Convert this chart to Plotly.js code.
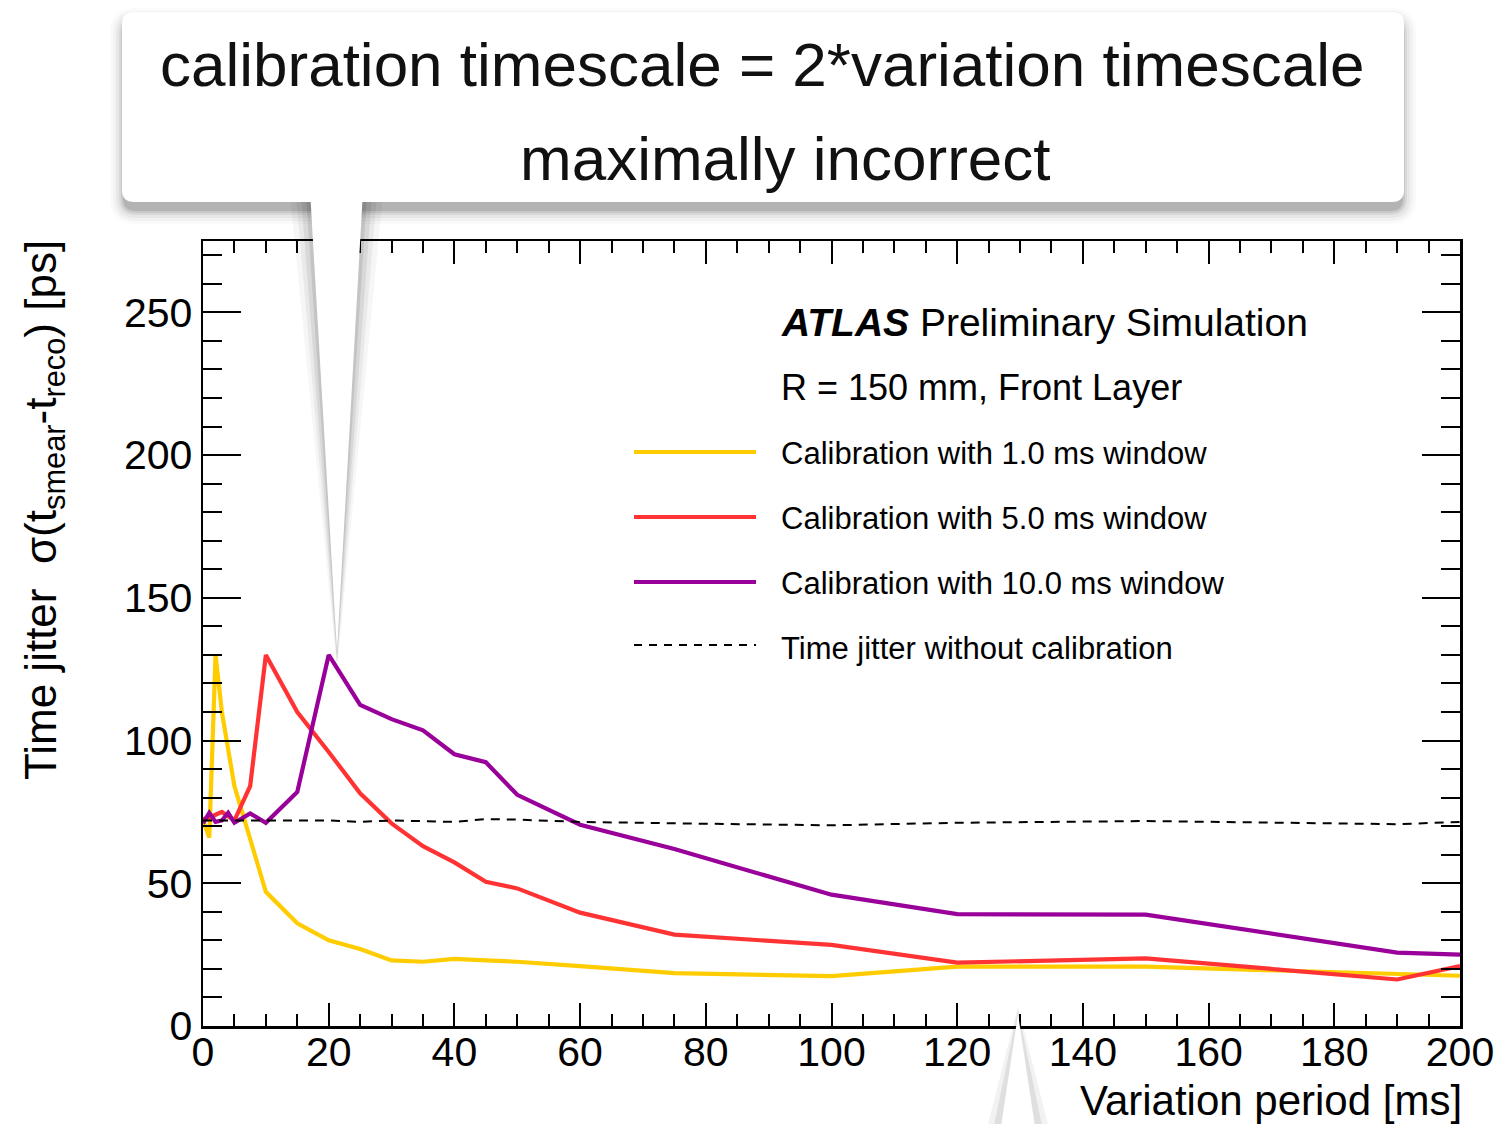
<!DOCTYPE html>
<html>
<head>
<meta charset="utf-8">
<script src="https://cdn.plot.ly/plotly-3.0.1.min.js"></script>
<style>html,body{margin:0;padding:0;background:#fff;}#chart{width:1501px;height:1124px;}</style>
</head>
<body>
<div id="chart"></div>
<script>
// ---- data ----
const xWin1 = [0, 1, 2, 3, 5, 10, 15, 20, 25, 30, 35, 40, 45, 50, 60, 75, 100, 120, 150, 190, 200];
const yWin1 = [72, 66, 130, 110, 84, 47, 36, 30, 27, 23, 22.5, 23.5, 23, 22.5, 21, 18.5, 17.5, 20.8, 20.8, 18, 17.6];

const xWin5 = [0, 1, 2, 3, 5, 7.5, 10, 15, 20, 25, 30, 35, 40, 45, 50, 60, 75, 100, 120, 150, 190, 200];
const yWin5 = [72.5, 73, 74, 75, 72, 84, 130, 110, 96, 81.5, 71, 63, 57.3, 50.5, 48.2, 39.7, 32, 28.4, 22.2, 23.7, 16.3, 21];

const xWin10 = [0, 1, 2, 3, 4, 5, 7.5, 10, 15, 20, 25, 30, 35, 40, 45, 50, 60, 75, 100, 120, 150, 190, 200];
const yWin10 = [71, 74.7, 71.5, 72, 74.7, 71.2, 74.5, 71.2, 82, 130, 112.5, 107.5, 103.6, 95.2, 92.4, 81, 70.5, 62, 46, 39.2, 39, 25.7, 25];

const xNoCal = [0, 10, 20, 25, 30, 40, 45, 50, 60, 75, 100, 120, 150, 190, 200];
const yNoCal = [72, 72, 72, 71.5, 72, 71.5, 72.5, 72.3, 71.5, 71, 70.3, 71.2, 71.8, 70.7, 71.5];

const seriesNames = [
  "Calibration with 1.0 ms window",
  "Calibration with 5.0 ms window",
  "Calibration with 10.0 ms window",
  "Time jitter without calibration"
];
const seriesColors = ["#FFCC00", "#FF3333", "#990099", "#000000"];

const xRange = [0, 200];
const yRange = [0, 275];

// ---- geometry helpers (pixel -> paper) ----
const L = 203, R = 1460, T = 241, B = 1026;
const px = x => (x - L) / (R - L);
const py = y => (B - y) / (B - T);
const FONT = "Liberation Sans, Arial, Helvetica, sans-serif";

function rrect(x0, y0, x1, y1, r) {
  return `M${px(x0 + r)},${py(y0)} L${px(x1 - r)},${py(y0)} Q${px(x1)},${py(y0)} ${px(x1)},${py(y0 + r)} ` +
         `L${px(x1)},${py(y1 - r)} Q${px(x1)},${py(y1)} ${px(x1 - r)},${py(y1)} ` +
         `L${px(x0 + r)},${py(y1)} Q${px(x0)},${py(y1)} ${px(x0)},${py(y1 - r)} ` +
         `L${px(x0)},${py(y0 + r)} Q${px(x0)},${py(y0)} ${px(x0 + r)},${py(y0)} Z`;
}
function poly(pts) {
  return "M" + pts.map(p => `${px(p[0])},${py(p[1])}`).join(" L") + " Z";
}
function pathShape(path, fill, opacity) {
  return {type: "path", xref: "paper", yref: "paper", path: path, fillcolor: fill,
          opacity: opacity, line: {width: 0}, layer: "above"};
}

// ---- traces ----
const traces = [
  {x: xWin1, y: yWin1, mode: "lines", line: {color: seriesColors[0], width: 4.2}, name: seriesNames[0]},
  {x: xWin5, y: yWin5, mode: "lines", line: {color: seriesColors[1], width: 4.2}, name: seriesNames[1]},
  {x: xWin10, y: yWin10, mode: "lines", line: {color: seriesColors[2], width: 4.2}, name: seriesNames[2]},
  {x: xNoCal, y: yNoCal, mode: "lines", line: {color: seriesColors[3], width: 2, dash: "9px,7px"}, name: seriesNames[3]}
];

// ---- shapes: legend swatches + callouts ----
const shapes = [];
const swatchY = [452, 517, 582, 645];
for (let i = 0; i < 4; i++) {
  shapes.push({type: "line", xref: "paper", yref: "paper",
    x0: px(634), x1: px(756), y0: py(swatchY[i]), y1: py(swatchY[i]),
    line: {color: seriesColors[i], width: i === 3 ? 2 : 4, dash: i === 3 ? "8px,7px" : "solid"}});
}
// box shadow
[[14, 0.02], [11, 0.03], [8, 0.045], [5, 0.06], [3, 0.08], [1, 0.1]].forEach(([e, o]) => {
  shapes.push(pathShape(rrect(122 - e + 2, 12 - e + 10, 1404 + e - 2, 202 + e + 8, 12 + e), "#000", o));
});
// wedge shadow (top callout)
shapes.push(pathShape(poly([[290, 195], [383, 195], [337, 670]]), "#000", 0.035));
shapes.push(pathShape(poly([[296, 195], [377, 195], [337, 665]]), "#000", 0.05));
shapes.push(pathShape(poly([[301, 195], [372, 195], [337, 661]]), "#000", 0.07));
shapes.push(pathShape(poly([[306, 195], [367, 195], [337, 657]]), "#000", 0.09));
// box
shapes.push(pathShape(rrect(122, 12, 1404, 202, 12), "#ffffff", 1));
// wedge white
shapes.push(pathShape(poly([[310, 190], [363, 190], [337, 652]]), "#ffffff", 1));
// bottom wedge (second callout below)
shapes.push(pathShape(poly([[984, 1140], [1052, 1140], [1018, 1006]]), "#000", 0.05));
shapes.push(pathShape(poly([[991, 1140], [1045, 1140], [1018, 1010]]), "#000", 0.08));
shapes.push(pathShape(poly([[999, 1140], [1037, 1140], [1018, 1014]]), "#ffffff", 1));

// ---- annotations ----
const ann = [];
function txt(text, x, y, size, xanchor, extra) {
  return Object.assign({xref: "paper", yref: "paper", x: px(x), y: py(y), text: text,
    showarrow: false, xanchor: xanchor, yanchor: "middle",
    font: {family: FONT, size: size, color: "#000"}}, extra || {});
}
ann.push(txt("calibration timescale = 2*variation timescale", 762, 64, 62, "center", {font: {family: FONT, size: 62, color: "#111"}}));
ann.push(txt("maximally incorrect", 785, 158, 62, "center", {font: {family: FONT, size: 62, color: "#111"}}));
ann.push(txt("<b><i>ATLAS</i></b> Preliminary Simulation", 779, 322, 39, "left"));
ann.push(txt("R = 150 mm, Front Layer", 779, 387, 36, "left"));
const legTextY = [453, 518, 583, 648];
for (let i = 0; i < 4; i++) ann.push(txt(seriesNames[i], 779, legTextY[i], 31, "left"));
ann.push(txt("Variation period [ms]", 1463, 1100, 42, "right", {borderpad: 0}));
ann.push({xref: "paper", yref: "paper", x: px(44), y: py(238), xanchor: "center", yanchor: "top",
  text: "Time jitter  σ(t<sub>smear</sub>-t<sub>reco</sub>) [ps]", textangle: -90, showarrow: false,
  font: {family: FONT, size: 44, color: "#000"}});

const axisCommon = {
  showline: true, linecolor: "#000", linewidth: 2.5, mirror: "allticks",
  ticks: "inside", tickcolor: "#000", tickwidth: 2,
  showgrid: false, zeroline: false,
  tickfont: {family: FONT, size: 41, color: "#000"}
};

const layout = {
  width: 1501, height: 1124,
  margin: {l: L, r: 1501 - R, t: T, b: 1124 - B, pad: 0},
  paper_bgcolor: "#fff", plot_bgcolor: "#fff",
  showlegend: false,
  xaxis: Object.assign({}, axisCommon, {range: xRange, dtick: 20, ticklen: 23, ticklabelstandoff: -12,
    minor: {dtick: 5, ticks: "inside", ticklen: 12, tickwidth: 2, tickcolor: "#000", showgrid: false}}),
  yaxis: Object.assign({}, axisCommon, {range: yRange, dtick: 50, ticklen: 38,
    minor: {dtick: 10, ticks: "inside", ticklen: 19, tickwidth: 2, tickcolor: "#000", showgrid: false}}),
  shapes: shapes,
  annotations: ann
};

Plotly.newPlot("chart", traces, layout, {displayModeBar: false, staticPlot: true});
</script>
</body>
</html>
